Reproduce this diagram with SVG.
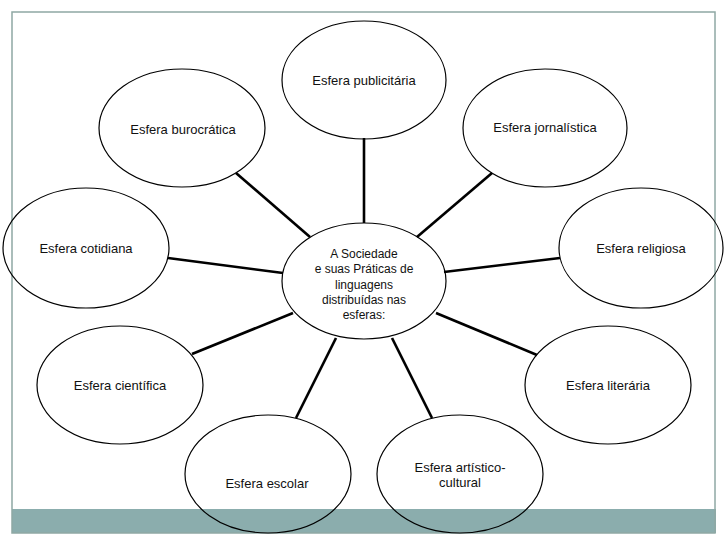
<svg xmlns="http://www.w3.org/2000/svg" width="728" height="546" viewBox="0 0 728 546">
<style>
.node ellipse{fill:none;stroke:#000;stroke-width:1.2}
.node text{font-family:"Liberation Sans",Arial,sans-serif;font-size:13px;fill:#111;text-anchor:middle}
#center text{font-size:12px}
#connectors line{stroke:#000;stroke-width:2.6}
</style>
<rect x="0" y="0" width="728" height="546" fill="#fff"/>
<rect x="12" y="509" width="704" height="24" fill="#8badad"/>
<rect x="12" y="12" width="703" height="521" fill="none" stroke="#8fa8a4" stroke-width="1.5"/>
<g id="connectors">
<line x1="364" y1="138" x2="364" y2="223"/>
<line x1="236" y1="173" x2="310" y2="237"/>
<line x1="492" y1="173" x2="417" y2="237"/>
<line x1="168" y1="258" x2="283" y2="273"/>
<line x1="560" y1="258" x2="444" y2="272"/>
<line x1="192" y1="354" x2="293" y2="313"/>
<line x1="296" y1="418" x2="336" y2="338"/>
<line x1="537" y1="355" x2="436" y2="313"/>
<line x1="432" y1="418" x2="392" y2="338"/>
</g>
<g id="center" class="node">
<ellipse cx="364" cy="281" rx="82" ry="58"/>
<text x="364" y="258">A Sociedade</text>
<text x="364" y="273">e suas Práticas de</text>
<text x="364" y="289">linguagens</text>
<text x="364" y="304">distribuídas nas</text>
<text x="364" y="319">esferas:</text>
</g>
<g id="publicitaria" class="node">
<ellipse cx="364" cy="80" rx="82" ry="59"/>
<text x="364" y="85">Esfera publicitária</text>
</g>
<g id="burocratica" class="node">
<ellipse cx="182" cy="128" rx="83" ry="59"/>
<text x="183" y="134">Esfera burocrática</text>
</g>
<g id="jornalistica" class="node">
<ellipse cx="545" cy="128" rx="82" ry="59"/>
<text x="545" y="132">Esfera jornalística</text>
</g>
<g id="cotidiana" class="node">
<ellipse cx="86" cy="248" rx="83" ry="60"/>
<text x="86" y="253">Esfera cotidiana</text>
</g>
<g id="religiosa" class="node">
<ellipse cx="641" cy="248" rx="82" ry="60"/>
<text x="641" y="253">Esfera religiosa</text>
</g>
<g id="cientifica" class="node">
<ellipse cx="120" cy="385" rx="83" ry="59"/>
<text x="120" y="390">Esfera científica</text>
</g>
<g id="literaria" class="node">
<ellipse cx="608" cy="385" rx="83" ry="59"/>
<text x="608" y="390">Esfera literária</text>
</g>
<g id="escolar" class="node">
<ellipse cx="268" cy="474" rx="83" ry="59"/>
<text x="267" y="488">Esfera escolar</text>
</g>
<g id="artistico" class="node">
<ellipse cx="460" cy="474" rx="83" ry="59"/>
<text x="460" y="472">Esfera artístico-</text>
<text x="460" y="487">cultural</text>
</g>
</svg>
